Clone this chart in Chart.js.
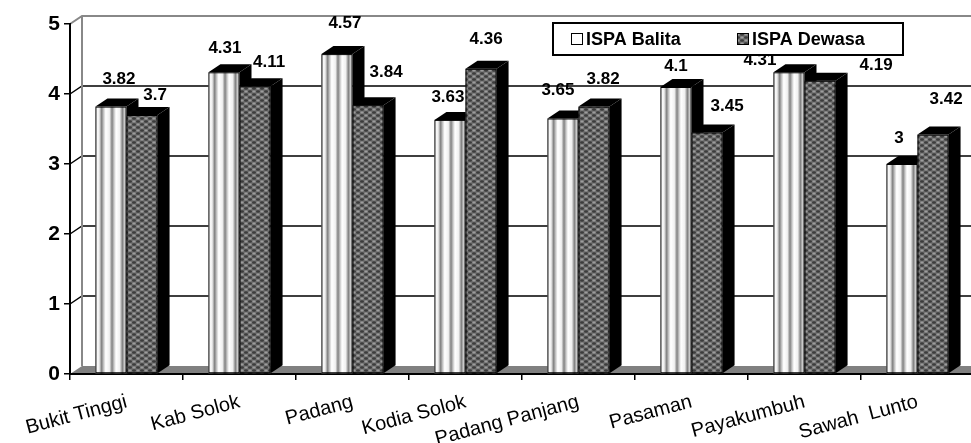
<!DOCTYPE html>
<html>
<head>
<meta charset="utf-8">
<title>ISPA Balita dan Dewasa</title>
<script src="https://cdn.jsdelivr.net/npm/chart.js@4.4.1/dist/chart.umd.min.js"></script>
<style>
  html, body { margin: 0; padding: 0; background: #fff; overflow: hidden; }
  #grafik { display: block; }
</style>
</head>
<body>
<canvas id="grafik" width="985" height="443"></canvas>
<script>
// Data per kabupaten / kota
const kategori = ['Bukit Tinggi', 'Kab Solok', 'Padang', 'Kodia Solok', 'Padang Panjang', 'Pasaman', 'Payakumbuh', 'Sawah  Lunto'];
const ispaBalita = [3.82, 4.31, 4.57, 3.63, 3.65, 4.1, 4.31, 3];
const ispaDewasa = [3.7, 4.11, 3.84, 4.36, 3.82, 3.45, 4.19, 3.42];
const tickY = [0, 1, 2, 3, 4, 5];

// geseran label nilai [x, y] dari tengah-atas batang
const geserBalita = [[8, -27], [1, -24], [8, -31], [-2, -23], [-5, -28], [0, -21], [-29, -12], [-3, -26]];
const geserDewasa = [[13, -20], [14, -24], [18, -33], [5, -29], [9, -27], [20, -26], [56, -15], [13, -35]];

const FONT = '"Liberation Sans", Arial, sans-serif';
const DX = 12, DY = 8; // kedalaman efek 3D

const canvas = document.getElementById('grafik');
const ctx = canvas.getContext('2d');

// Pola kotak-kotak abu-abu untuk ISPA Dewasa
function buatPolaDewasa() {
    const c = document.createElement('canvas');
    c.width = 8; c.height = 6;
    const g = c.getContext('2d');
    g.fillStyle = '#707070';
    g.fillRect(0, 0, 8, 6);
    g.fillStyle = '#3c3c3c';
    [[2, 1.5], [6, 4.5]].forEach(([x, y]) => {
        g.beginPath(); g.ellipse(x, y, 2, 1.3, 0, 0, Math.PI * 2); g.fill();
    });
    g.fillStyle = '#9c9c9c';
    [[6, 1.5], [2, 4.5]].forEach(([x, y]) => {
        g.beginPath(); g.ellipse(x, y, 1.6, 1, 0, 0, Math.PI * 2); g.fill();
    });
    return ctx.createPattern(c, 'repeat');
}
const polaDewasa = buatPolaDewasa();

// Garis-garis vertikal (silinder) untuk ISPA Balita
function gradasiBalita(x, w) {
    const gr = ctx.createLinearGradient(x, 0, x + w, 0);
    const n = 3;
    for (let i = 0; i < n; i++) {
        const a = i / n, s = 1 / n;
        gr.addColorStop(a, '#ffffff');
        gr.addColorStop(a + s * 0.35, '#f0f0f0');
        gr.addColorStop(a + s * 0.6, '#808080');
        gr.addColorStop(a + s * 0.8, '#c8c8c8');
        gr.addColorStop(a + s * 0.99, '#ffffff');
    }
    return gr;
}

function gambarBatang(x, w, top, base, fill) {
    ctx.fillStyle = fill;
    ctx.fillRect(x, top, w, base - top);
    ctx.strokeStyle = '#000';
    ctx.lineWidth = 1;
    ctx.strokeRect(x + 0.5, top + 0.5, w - 1, base - top - 1);
    ctx.fillStyle = '#000';
    // sisi kanan
    ctx.beginPath();
    ctx.moveTo(x + w, top);
    ctx.lineTo(x + w + DX, top - DY);
    ctx.lineTo(x + w + DX, base - DY);
    ctx.lineTo(x + w, base);
    ctx.closePath();
    ctx.fill();
    // sisi atas
    ctx.beginPath();
    ctx.moveTo(x, top);
    ctx.lineTo(x + DX, top - DY);
    ctx.lineTo(x + w + DX, top - DY);
    ctx.lineTo(x + w, top);
    ctx.closePath();
    ctx.fill();
}

const efek3D = {
    id: 'efek3D',
    // dinding belakang, dinding kiri dan lantai
    beforeDraw(chart) {
        const { left, right } = chart.chartArea;
        const y = chart.scales.y;
        const c = chart.ctx;
        const y0 = y.getPixelForValue(0), y5 = y.getPixelForValue(5);
        c.save();
        // lantai
        c.fillStyle = '#808080';
        c.beginPath();
        c.moveTo(left, y0);
        c.lineTo(left + DX, y0 - DY);
        c.lineTo(right + DX, y0 - DY);
        c.lineTo(right, y0);
        c.closePath();
        c.fill();
        // garis grid di dinding belakang dan kiri
        c.strokeStyle = '#000';
        c.lineWidth = 1.5;
        tickY.slice(1, -1).forEach(v => {
            const py = y.getPixelForValue(v);
            c.beginPath();
            c.moveTo(left, py);
            c.lineTo(left + DX, py - DY);
            c.lineTo(right + DX, py - DY);
            c.stroke();
        });
        // tepi dinding
        c.strokeStyle = '#888';
        c.lineWidth = 2;
        c.beginPath();
        c.moveTo(left, y5);
        c.lineTo(left + DX, y5 - DY);
        c.lineTo(right + DX, y5 - DY);
        c.moveTo(left + DX, y5 - DY);
        c.lineTo(left + DX, y0 - DY);
        c.stroke();
        c.restore();
    },
    // batang digambar sendiri supaya urutan sisi 3D benar
    beforeDatasetsDraw(chart) {
        const metas = [chart.getDatasetMeta(0), chart.getDatasetMeta(1)];
        const geser = [geserBalita, geserDewasa];
        ctx.save();
        kategori.forEach((k, i) => {
            metas.forEach((meta, d) => {
                const b = meta.data[i].getProps(['x', 'y', 'base', 'width'], true);
                const x = b.x - b.width / 2;
                const fill = d === 0 ? gradasiBalita(x, b.width) : polaDewasa;
                gambarBatang(x, b.width, b.y, b.base, fill);
            });
        });
        // label nilai
        ctx.fillStyle = '#000';
        ctx.font = 'bold 17px ' + FONT;
        ctx.textAlign = 'center';
        ctx.textBaseline = 'middle';
        metas.forEach((meta, d) => {
            const nilai = chart.data.datasets[d].data;
            meta.data.forEach((bar, i) => {
                const b = bar.getProps(['x', 'y'], true);
                const [gx, gy] = geser[d][i];
                ctx.fillText(String(nilai[i]), b.x + gx, b.y + gy);
            });
        });
        ctx.restore();
        return false;
    },
    // legenda dalam kotak
    afterDraw(chart) {
        const c = chart.ctx;
        c.save();
        c.fillStyle = '#fff';
        c.fillRect(553, 23, 350, 32);
        c.strokeStyle = '#000';
        c.lineWidth = 2;
        c.strokeRect(553, 23, 350, 32);
        const posisi = [571, 737];
        c.font = 'bold 18px ' + FONT;
        c.textBaseline = 'middle';
        chart.data.datasets.forEach((ds, d) => {
            const x = posisi[d];
            c.fillStyle = d === 0 ? '#fff' : polaDewasa;
            c.fillRect(x, 33, 12, 12);
            c.lineWidth = 1;
            c.strokeRect(x + 0.5, 33.5, 11, 11);
            c.fillStyle = '#000';
            c.fillText(ds.label, x + 15, 40);
        });
        c.restore();
    }
};

new Chart(ctx, {
    type: 'bar',
    data: {
        labels: kategori,
        datasets: [
            { label: 'ISPA Balita', data: ispaBalita, backgroundColor: '#ffffff' },
            { label: 'ISPA Dewasa', data: ispaDewasa, backgroundColor: polaDewasa }
        ]
    },
    options: {
        responsive: false,
        animation: false,
        events: [],
        layout: { padding: { top: 24, right: 11, left: 0, bottom: 0 } },
        datasets: {
            bar: { categoryPercentage: 0.55, barPercentage: 1 }
        },
        plugins: {
            legend: { display: false },
            tooltip: { enabled: false }
        },
        scales: {
            x: {
                z: 1,
                afterFit: s => { s.height = 69; },
                grid: { drawOnChartArea: false, drawTicks: true, tickLength: 6, color: '#000', lineWidth: 1.5 },
                border: { color: '#000', width: 2 },
                ticks: {
                    color: '#000',
                    font: { family: FONT, size: 20 },
                    minRotation: 15,
                    maxRotation: 15,
                    autoSkip: false,
                    padding: 10
                }
            },
            y: {
                min: 0,
                max: 5,
                afterFit: s => { s.width = 70; },
                afterBuildTicks: s => { s.ticks = tickY.map(v => ({ value: v })); },
                grid: { drawOnChartArea: false, drawTicks: true, tickLength: 6, color: '#000', lineWidth: 1.5 },
                border: { color: '#000', width: 2 },
                ticks: {
                    color: '#000',
                    font: { family: FONT, size: 21, weight: 'bold' },
                    padding: 4
                }
            }
        }
    },
    plugins: [efek3D]
});
</script>
</body>
</html>
